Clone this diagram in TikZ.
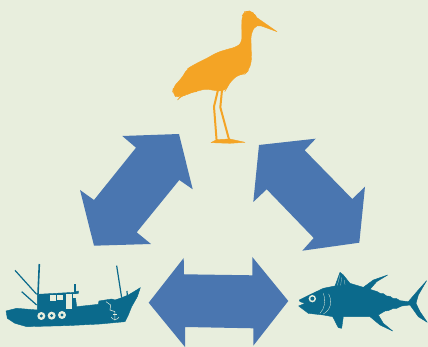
\documentclass[tikz,border=0pt]{standalone}
\definecolor{paleground}{RGB}{232,238,221}
\definecolor{cycleblue}{RGB}{74,118,176}
\definecolor{deepteal}{RGB}{11,106,140}
\definecolor{craneorange}{RGB}{244,164,37}
\usepackage{tikz}

\begin{document}
\begin{tikzpicture}[
    x=1pt, y=-1pt,
    cyclearrow/.style={fill=cycleblue},
    crane/.style={fill=craneorange, draw=craneorange, line width=0.4pt, line join=round},
    craneleg/.style={draw=craneorange, line width=2pt, line join=round},
    tealshape/.style={fill=deepteal, draw=deepteal, line width=0.4pt, line join=round},
    paleline/.style={draw=paleground, line width=0.5pt},
    paleblock/.style={fill=paleground}
]
  \useasboundingbox (0,0) rectangle (428,347);
  \fill[paleground] (0,0) rectangle (428,347);

  % Arrows
  \fill[cyclearrow] (122.3,136) -- (179,134) -- (192.7,189.3) -- (179.3,180) -- (136.7,232.3) -- (151,244)
    -- (94,245.7) -- (80,190) -- (94,200) -- (136,147.7) -- cycle;
  \fill[cyclearrow] (259,145) -- (315.7,138.7) -- (304.7,150.3) -- (352.3,199) -- (365,186.7) -- (359.3,242.7)
    -- (302.3,250.7) -- (313.7,238) -- (266.7,189.3) -- (253.3,202) -- cycle;
  \fill[cyclearrow] (183.7,258) -- (184,274.3) -- (252.3,275.3) -- (252.3,257) -- (288.3,301) -- (253.3,345.7)
    -- (253.3,328.3) -- (185,327) -- (185,347) -- (148.7,302.7) -- cycle;

  % Crane
  \begin{scope}[shift={(150,0)}, scale=0.3333]
    \fill[crane, rounded corners=5pt] (340,80) -- (322,55) -- (312,40) -- (298,33) -- (285,35) -- (276,48) -- (275,75) -- (276,128)
      -- (262,140) -- (225,150) -- (200,158) -- (180,170) -- (150,185) -- (125,198) -- (110,208) -- (100,228) -- (85,245) -- (70,262) -- (67,280)
      -- (85,297) -- (92,288) -- (110,285) -- (125,276) -- (140,275) -- (165,266) -- (195,272) -- (225,274) -- (232,262) -- (245,240)
      -- (270,222) -- (285,222) -- (295,212) -- (305,185) -- (303,130) -- (303,100) -- (320,72) -- cycle;
    \fill[crane] (381,95) -- (322,54) -- (318,72) -- cycle;
    \draw[craneleg] (204,270) -- (192,320) -- (200,424);
    \draw[craneleg] (216,270) -- (211,322) -- (238,422);
    \fill[crane] (183,428) -- (200,419) -- (240,417) -- (285,427) -- (240,430) -- cycle;
  \end{scope}

  % Boat
  \begin{scope}[shift={(0,255)}, scale=0.3333]
    \fill[tealshape] (421,98) -- (410,105) -- (385,120) -- (360,130) -- (345,135) -- (335,132) -- (297,138)
      -- (295,148) -- (230,155) -- (225,117) -- (235,115) -- (235,108) -- (222,112) -- (112,118) -- (112,165)
      -- (50,160) -- (18,168) -- (22,190) -- (45,205) -- (80,215) -- (200,212) -- (300,207) -- (375,200)
      -- (385,180) -- (395,155) -- (412,125) -- cycle;
    \draw[deepteal, line width=1.6pt] (118,27) -- (114,118);
    \draw[deepteal, line width=1.2pt] (45,46) -- (110,118);
    \draw[deepteal, line width=1.2pt] (65,110) -- (110,150);
    \draw[deepteal, line width=1.2pt] (350,32) -- (365,128);
    \draw[deepteal, line width=1.2pt] (381,108) -- (382,122);
    \draw[deepteal, line width=1.2pt] (225,88) -- (225,110);
    % windows
    \fill[paleblock] (150,121) rectangle (168,137);
    \fill[paleblock] (171,119) rectangle (190,135);
    \fill[paleblock] (197,116) rectangle (215,162);
    \fill[paleblock] (218,116) rectangle (227,130);
    % tyres
    \foreach \tx/\ty in {124/183, 155/182, 186/180}{
      \fill[paleground] (\tx,\ty) circle (12pt);
      \fill[deepteal] (\tx,\ty) circle (5pt);
    }
    % anchor
    \draw[paleline] (318,140) -- (332,150) -- (330,165) -- (345,170) -- (345,196);
    \draw[paleline] (334,186) .. controls (336,196) and (354,196) .. (357,186);
    \draw[paleline] (339,177) -- (351,177);
  \end{scope}

  % Fish
  \begin{scope}[shift={(290,260)}, scale=0.3333]
    \fill[tealshape] (28,120) -- (58,105) -- (100,85) -- (135,78) -- (150,37) -- (160,45) -- (180,70) -- (220,82)
      -- (250,60) -- (293,45) -- (260,65) -- (240,88) -- (262,95) -- (270,100) -- (280,101) -- (290,108) -- (300,109)
      -- (310,116) -- (320,116) -- (330,122) -- (355,125) -- (385,90) -- (410,62) -- (385,105) -- (378,130)
      -- (390,155) -- (412,187) -- (385,170) -- (360,135) -- (335,138) -- (320,145) -- (310,145) -- (295,152)
      -- (285,153) -- (265,165) -- (280,190) -- (308,213) -- (270,195) -- (240,170) -- (160,170) -- (155,205)
      -- (145,203) -- (128,170) -- (100,165) -- (55,160) -- (26,138) -- (45,130) -- (30,125) -- cycle;
    \fill[paleground] (67,116) circle (11pt);
    \fill[deepteal] (67,116) circle (6pt);
    \draw[paleline, line width=0.3pt] (100,100) .. controls (108,125) and (104,145) .. (90,160);
    \draw[paleline, line width=0.3pt] (116,102) .. controls (128,125) and (122,150) .. (100,162);
    \draw[paleline, line width=0.2pt] (150,45) -- (142,76);
    \draw[paleline, line width=0.2pt] (155,52) -- (152,76);
    \draw[paleline, line width=0.2pt] (163,60) -- (165,74);
  \end{scope}
\end{tikzpicture}
\end{document}
